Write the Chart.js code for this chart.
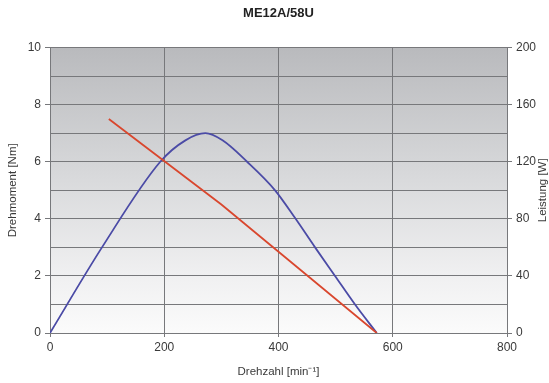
<!DOCTYPE html>
<html>
<head>
<meta charset="utf-8">
<script src="https://cdn.jsdelivr.net/npm/chart.js@4/dist/chart.umd.min.js"></script>
<style>
  html, body { margin: 0; padding: 0; background: #ffffff; }
  #wrap { width: 549px; height: 383px; }
</style>
</head>
<body>
<div id="wrap"><canvas id="c" width="549" height="383"></canvas></div>
<script>
// Motor characteristic ME12A/58U
const chartTitle = 'ME12A/58U';
const xTitle = 'Drehzahl [min\u207B\u00B9]';
const torqueTitle = 'Drehmoment [Nm]';
const powerTitle = 'Leistung [W]';

// Torque curve: speed [min^-1] -> torque [Nm]
const torqueSpeed = [103, 300, 572];
const torqueValues = [7.5, 4.5, 0];

// Output power curve: speed [min^-1] -> power [W]
const powerSpeed = [0, 91, 193, 237, 272, 302, 345, 394, 430, 464, 499, 534, 572];
const powerValues = [0, 60, 120, 135, 140, 135, 120, 100, 80, 60, 40, 20, 0];

// Axis ranges / tick steps
const xRange = [0, 800];
const xStep = 200;
const torqueRange = [0, 10];
const torqueGridStep = 1;
const torqueLabelStep = 2;
const powerRange = [0, 200];
const powerStep = 40;

const toPoints = (xs, ys) => xs.map((x, i) => ({ x: x, y: ys[i] }));

const FONT = "'Liberation Sans', Arial, sans-serif";
const GRID = '#77787b';
const TEXT = '#3a3a3a';

// Grey gradient behind the plot area
const plotBackground = {
  id: 'plotBackground',
  beforeDraw(chart) {
    const { ctx, chartArea: a } = chart;
    const g = ctx.createLinearGradient(0, a.top, 0, a.bottom);
    g.addColorStop(0, '#b9babd');
    g.addColorStop(0.45, '#d8d9db');
    g.addColorStop(0.8, '#f0f0f1');
    g.addColorStop(1, '#fbfbfb');
    ctx.save();
    ctx.fillStyle = g;
    ctx.fillRect(a.left, a.top, a.right - a.left, a.bottom - a.top);
    ctx.restore();
  }
};

// Right axis title, reading bottom to top like the left one
const rightAxisTitle = {
  id: 'rightAxisTitle',
  afterDraw(chart) {
    const { ctx, chartArea: a } = chart;
    ctx.save();
    ctx.translate(543, (a.top + a.bottom) / 2);
    ctx.rotate(-Math.PI / 2);
    ctx.font = '11.5px ' + FONT;
    ctx.fillStyle = TEXT;
    ctx.textAlign = 'center';
    ctx.textBaseline = 'middle';
    ctx.fillText(powerTitle, 0, 0);
    ctx.restore();
  }
};

new Chart(document.getElementById('c'), {
  type: 'scatter',
  data: {
    datasets: [
      {
        label: 'Drehmoment',
        data: toPoints(torqueSpeed, torqueValues),
        yAxisID: 'y',
        showLine: true,
        borderColor: '#d9472e',
        borderWidth: 1.8,
        pointRadius: 0,
        tension: 0
      },
      {
        label: 'Leistung',
        data: toPoints(powerSpeed, powerValues),
        yAxisID: 'y1',
        showLine: true,
        borderColor: '#4b4ba6',
        borderWidth: 1.8,
        pointRadius: 0,
        cubicInterpolationMode: 'monotone'
      }
    ]
  },
  options: {
    responsive: false,
    animation: false,
    layout: { padding: 0 },
    plugins: {
      legend: { display: false },
      tooltip: { enabled: false },
      title: {
        display: true,
        text: chartTitle,
        fullSize: false,
        color: '#222222',
        font: { family: FONT, size: 13, weight: 'bold' },
        padding: { top: 6, bottom: 26 }
      }
    },
    scales: {
      x: {
        type: 'linear',
        min: xRange[0],
        max: xRange[1],
        afterFit(s) { s.height = 50; },
        ticks: {
          stepSize: xStep,
          color: TEXT,
          padding: 3,
          maxRotation: 0,
          font: { family: FONT, size: 12 }
        },
        grid: { color: GRID, lineWidth: 1, tickLength: 4, tickColor: GRID },
        border: { color: GRID, width: 1 },
        title: {
          display: true,
          text: xTitle,
          color: TEXT,
          font: { family: FONT, size: 11.5 },
          padding: { top: 0, bottom: 4 }
        }
      },
      y: {
        type: 'linear',
        position: 'left',
        min: torqueRange[0],
        max: torqueRange[1],
        afterFit(s) { s.width = 50; },
        ticks: {
          stepSize: torqueGridStep,
          color: TEXT,
          padding: 4,
          font: { family: FONT, size: 12 },
          callback: v => (v % torqueLabelStep === 0 ? v : '')
        },
        grid: {
          color: GRID,
          lineWidth: 1,
          tickLength: 5,
          tickColor: c => (c.tick && c.tick.value % torqueLabelStep === 0 ? GRID : 'rgba(0,0,0,0)')
        },
        border: { color: GRID, width: 1 },
        title: {
          display: true,
          text: torqueTitle,
          color: TEXT,
          font: { family: FONT, size: 11.5 },
          padding: { top: 6, bottom: 0 }
        }
      },
      y1: {
        type: 'linear',
        position: 'right',
        min: powerRange[0],
        max: powerRange[1],
        afterFit(s) { s.width = 42; },
        ticks: {
          stepSize: powerStep,
          color: TEXT,
          padding: 4,
          font: { family: FONT, size: 12 }
        },
        grid: { drawOnChartArea: false, tickLength: 5, tickColor: GRID },
        border: { color: GRID, width: 1 },
        title: { display: false }
      }
    }
  },
  plugins: [plotBackground, rightAxisTitle]
});
</script>
</body>
</html>
